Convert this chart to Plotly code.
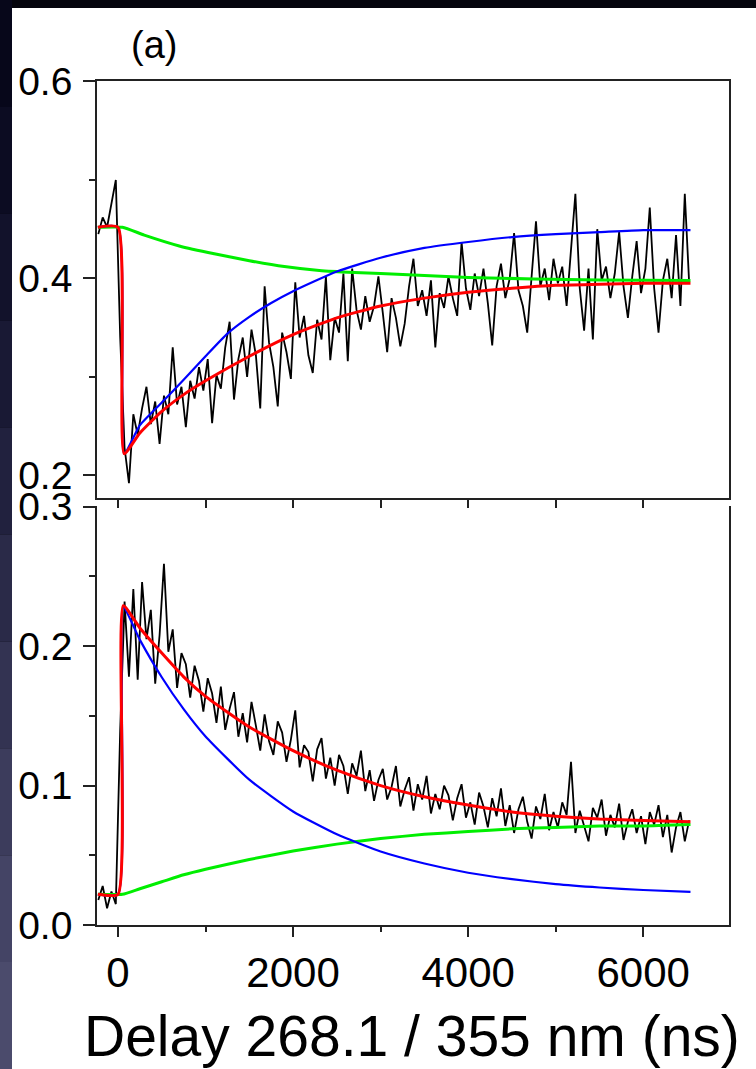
import plotly.graph_objects as go

# ---------------- data ----------------
# Transient traces, sampled every 50 ns starting at -225 ns
T0_NS = -225
STEP_NS = 50

upper_signal = [
    0.445, 0.462, 0.452, 0.478, 0.500, 0.340, 0.228, 0.192, 0.262, 0.241,
    0.268, 0.290, 0.252, 0.275, 0.232, 0.281, 0.262, 0.330, 0.272, 0.290,
    0.249, 0.296, 0.278, 0.310, 0.286, 0.318, 0.253, 0.302, 0.288, 0.330,
    0.356, 0.277, 0.318, 0.340, 0.300, 0.348, 0.322, 0.268, 0.392, 0.335,
    0.310, 0.270, 0.345, 0.325, 0.298, 0.396, 0.340, 0.362, 0.322, 0.304,
    0.358, 0.338, 0.402, 0.317, 0.360, 0.345, 0.405, 0.316, 0.410, 0.368,
    0.348, 0.382, 0.356, 0.372, 0.402, 0.365, 0.325, 0.380, 0.360, 0.331,
    0.354, 0.392, 0.420, 0.372, 0.388, 0.362, 0.398, 0.330, 0.385, 0.370,
    0.402, 0.380, 0.362, 0.437, 0.390, 0.368, 0.405, 0.382, 0.410, 0.375,
    0.332, 0.392, 0.415, 0.380, 0.400, 0.446, 0.388, 0.372, 0.345, 0.402,
    0.458, 0.392, 0.410, 0.378, 0.420, 0.395, 0.412, 0.372, 0.425, 0.486,
    0.390, 0.347, 0.410, 0.338, 0.450, 0.398, 0.412, 0.380, 0.405, 0.447,
    0.392, 0.360, 0.402, 0.438, 0.385, 0.410, 0.472, 0.390, 0.345, 0.398,
    0.420, 0.380, 0.444, 0.372, 0.486, 0.395,
]

lower_signal = [
    0.018, 0.028, 0.012, 0.024, 0.015, 0.140, 0.232, 0.178, 0.241, 0.176,
    0.246, 0.205, 0.226, 0.173, 0.208, 0.259, 0.196, 0.212, 0.170, 0.195,
    0.187, 0.163, 0.186, 0.175, 0.153, 0.177, 0.166, 0.145, 0.171, 0.140,
    0.155, 0.167, 0.135, 0.152, 0.131, 0.160, 0.143, 0.125, 0.151, 0.132,
    0.122, 0.146, 0.138, 0.117, 0.133, 0.154, 0.113, 0.129, 0.124, 0.103,
    0.126, 0.134, 0.105, 0.120, 0.100, 0.122, 0.114, 0.094, 0.116, 0.107,
    0.125, 0.096, 0.111, 0.089, 0.104, 0.112, 0.090, 0.099, 0.114, 0.085,
    0.097, 0.106, 0.082, 0.101, 0.090, 0.107, 0.080, 0.094, 0.083, 0.100,
    0.093, 0.075, 0.091, 0.101, 0.077, 0.088, 0.072, 0.095, 0.085, 0.070,
    0.091, 0.078, 0.098, 0.071, 0.086, 0.066, 0.083, 0.092, 0.074, 0.062,
    0.085, 0.076, 0.094, 0.068, 0.081, 0.070, 0.088, 0.079, 0.117, 0.066,
    0.082, 0.071, 0.060, 0.084, 0.077, 0.090, 0.064, 0.079, 0.070, 0.087,
    0.061, 0.074, 0.083, 0.066, 0.078, 0.058, 0.081, 0.072, 0.086, 0.063,
    0.079, 0.052, 0.070, 0.081, 0.060, 0.075,
]

# Fitted kinetic curves (delay in ns, signal)
upper_red_t = [-230, 0, 70, 250, 500, 750, 1000, 1500, 2000, 2500, 3000,
               3500, 4000, 4500, 5000, 5500, 6000, 6540]
upper_red_v = [0.452, 0.452, 0.222, 0.243, 0.265, 0.282, 0.296, 0.321, 0.343,
               0.360, 0.372, 0.380, 0.386, 0.390, 0.393, 0.394, 0.395, 0.395]

upper_blue_t = [-230, 0, 70, 250, 500, 750, 1000, 1250, 1500, 1750, 2000,
                2500, 3000, 3500, 4000, 4500, 5000, 5500, 6000, 6540]
upper_blue_v = [0.452, 0.452, 0.222, 0.251, 0.274, 0.297, 0.321, 0.344, 0.361,
                0.375, 0.387, 0.407, 0.421, 0.431, 0.437, 0.442, 0.445, 0.447,
                0.449, 0.449]

upper_green_t = [-230, 50, 300, 700, 1100, 1500, 1900, 2300, 2700, 3000, 3500,
                 4000, 4750, 5500, 6540]
upper_green_v = [0.452, 0.452, 0.444, 0.433, 0.425, 0.418, 0.412, 0.408, 0.406,
                 0.405, 0.403, 0.401, 0.3995, 0.3985, 0.398]

lower_red_t = [-230, 0, 60, 250, 500, 750, 1000, 1500, 2000, 2500, 3000, 3500,
               4000, 4500, 5000, 5500, 6000, 6540]
lower_red_v = [0.022, 0.022, 0.229, 0.213, 0.195, 0.178, 0.164, 0.142, 0.125,
               0.111, 0.100, 0.092, 0.086, 0.081, 0.078, 0.076, 0.075, 0.074]

lower_blue_t = [-230, 0, 60, 250, 500, 750, 1000, 1500, 2000, 2500, 3000, 3500,
                4000, 4500, 5000, 5500, 6000, 6540]
lower_blue_v = [0.022, 0.022, 0.228, 0.2045, 0.1777, 0.1548, 0.1352, 0.1042,
                0.0814, 0.065, 0.0527, 0.0441, 0.0375, 0.0329, 0.0293, 0.0269,
                0.0251, 0.0237]

lower_green_t = [-230, 50, 250, 500, 750, 1000, 1500, 2000, 2500, 3000, 3500,
                 4000, 4500, 5000, 5500, 6000, 6540]
lower_green_v = [0.022, 0.022, 0.026, 0.031, 0.036, 0.040, 0.047, 0.053, 0.058,
                 0.062, 0.065, 0.067, 0.069, 0.070, 0.071, 0.071, 0.072]

upper_ticks = [0.2, 0.4, 0.6]
lower_ticks = [0.0, 0.1, 0.2, 0.3]
x_ticks = [0, 2000, 4000, 6000]

# side strip shading, top to bottom
strip_colors = ["#07071a", "#0c0c22", "#12122b", "#191934", "#21213e",
                "#2a2a48", "#333352", "#3c3c5c", "#444465", "#4b4b6c"]

# ---------------- figure ----------------
W, H = 756, 1069
FONT = "Arial, Liberation Sans, sans-serif"

t_upper = [T0_NS + STEP_NS * i for i in range(len(upper_signal))]
t_lower = [T0_NS + STEP_NS * i for i in range(len(lower_signal))]

fig = go.Figure()

def add_panel(xa, ya, t_sig, sig, curves):
    fig.add_trace(go.Scatter(x=t_sig, y=sig, mode="lines",
                             line=dict(color="black", width=1.8),
                             xaxis=xa, yaxis=ya, showlegend=False))
    for tx, vy, col, w in curves:
        fig.add_trace(go.Scatter(x=tx, y=vy, mode="lines",
                                 line=dict(color=col, width=w, shape="spline",
                                           smoothing=0.5),
                                 xaxis=xa, yaxis=ya, showlegend=False))

add_panel("x", "y", t_upper, upper_signal, [
    (upper_green_t, upper_green_v, "#00ee00", 3),
    (upper_blue_t, upper_blue_v, "#0000ff", 2.2),
    (upper_red_t, upper_red_v, "#ff0000", 3),
])
add_panel("x2", "y2", t_lower, lower_signal, [
    (lower_green_t, lower_green_v, "#00ee00", 3),
    (lower_blue_t, lower_blue_v, "#0000ff", 2.2),
    (lower_red_t, lower_red_v, "#ff0000", 3),
])

x_dom = [97 / W, 729 / W]
top_dom = [1 - 498 / H, 1 - 81 / H]
bot_dom = [1 - 925 / H, 1 - 506 / H]
x_range = [-240, 6980]

axis_common = dict(showline=True, linecolor="#222", linewidth=1.6,
                   showgrid=False, zeroline=False, ticks="outside",
                   tickcolor="#222", tickwidth=1.6, automargin=False)

shapes = [
    dict(type="rect", xref="paper", yref="paper", x0=12 / W, x1=1,
         y0=0, y1=1 - 8 / H, fillcolor="white", line=dict(width=0),
         layer="below"),
]
n = len(strip_colors)
for i, c in enumerate(strip_colors):
    shapes.append(dict(type="rect", xref="paper", yref="paper", x0=0,
                       x1=12 / W, y0=1 - (i + 1) / n, y1=1 - i / n,
                       fillcolor=c, line=dict(width=0), layer="below"))

fig.update_layout(
    width=W, height=H,
    margin=dict(l=0, r=0, t=0, b=0, pad=0, autoexpand=False),
    paper_bgcolor="#05050d",
    plot_bgcolor="white",
    font=dict(family=FONT, color="black"),
    shapes=shapes,
    xaxis=dict(domain=x_dom, range=x_range, anchor="y", mirror=True,
               tickvals=[0, 1000, 2000, 3000, 4000, 5000, 6000],
               showticklabels=False, ticklen=8, **axis_common),
    yaxis=dict(domain=top_dom, range=[0.177, 0.6005], anchor="x", mirror=True,
               tickvals=upper_ticks, ticktext=[f"{v:.1f}" for v in upper_ticks],
               ticklen=12, tickfont=dict(size=39), ticklabelstandoff=3,
               minor=dict(tickvals=[0.3, 0.5], ticklen=6, ticks="outside",
                          tickcolor="#222", tickwidth=1.6),
               **axis_common),
    xaxis2=dict(domain=x_dom, range=x_range, anchor="y2", mirror=False,
                tickvals=x_ticks, ticktext=[str(v) for v in x_ticks],
                ticklen=10, tickfont=dict(size=42),
                minor=dict(tickvals=[1000, 3000, 5000], ticklen=5,
                           ticks="outside", tickcolor="#222", tickwidth=1.6),
                **axis_common),
    yaxis2=dict(domain=bot_dom, range=[0, 0.3005], anchor="x2", mirror=True,
                tickvals=lower_ticks, ticktext=[f"{v:.1f}" for v in lower_ticks],
                ticklen=12, tickfont=dict(size=39), ticklabelstandoff=3,
                minor=dict(tickvals=[0.05, 0.15, 0.25], ticklen=6,
                           ticks="outside", tickcolor="#222", tickwidth=1.6),
                **axis_common),
    annotations=[
        dict(text="(a)", x=154 / W, y=1 - 45 / H, xref="paper", yref="paper",
             showarrow=False, font=dict(size=38), xanchor="center",
             yanchor="middle"),
        dict(text="Delay 268.1 / 355 nm (ns)", x=412 / W, y=0,
             xref="paper", yref="paper", showarrow=False, borderpad=0,
             font=dict(size=57), xanchor="center", yanchor="bottom"),
    ],
)

fig.write_html("out.html")
